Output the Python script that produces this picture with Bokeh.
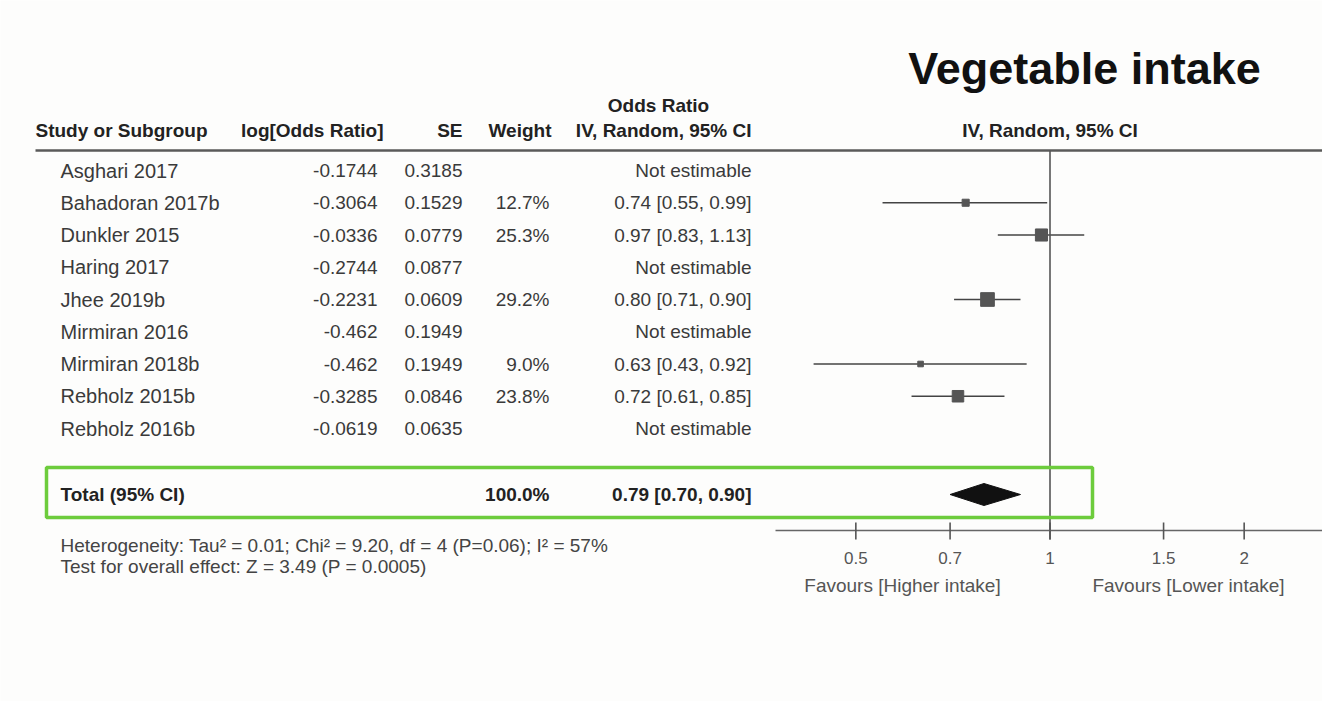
from bokeh.plotting import figure
from bokeh.models import Range1d, LogScale, ColumnDataSource
from bokeh.core.properties import value
from bokeh.embed import file_html
from bokeh.resources import INLINE

# ---------------- data ----------------
studies = ["Asghari 2017", "Bahadoran 2017b", "Dunkler 2015", "Haring 2017", "Jhee 2019b",
           "Mirmiran 2016", "Mirmiran 2018b", "Rebholz 2015b", "Rebholz 2016b"]
log_or = ["-0.1744", "-0.3064", "-0.0336", "-0.2744", "-0.2231", "-0.462", "-0.462", "-0.3285", "-0.0619"]
se = ["0.3185", "0.1529", "0.0779", "0.0877", "0.0609", "0.1949", "0.1949", "0.0846", "0.0635"]
weight = [None, 12.7, 25.3, None, 29.2, None, 9.0, 23.8, None]
or_est = [None, 0.74, 0.97, None, 0.80, None, 0.63, 0.72, None]
ci_low = [None, 0.55, 0.83, None, 0.71, None, 0.43, 0.61, None]
ci_high = [None, 0.99, 1.13, None, 0.90, None, 0.92, 0.85, None]

total_label = "Total (95% CI)"
total_weight = 100.0
total_est, total_low, total_high = 0.79, 0.70, 0.90

tick_values = [0.5, 0.7, 1, 1.5, 2]
tick_labels = ["0.5", "0.7", "1", "1.5", "2"]
favours_left = "Favours [Higher intake]"
favours_right = "Favours [Lower intake]"
heterogeneity = "Heterogeneity: Tau\u00b2 = 0.01; Chi\u00b2 = 9.20, df = 4 (P=0.06); I\u00b2 = 57%"
overall = "Test for overall effect: Z = 3.49 (P = 0.0005)"
title = "Vegetable intake"

# ---------------- layout ----------------
W, H = 1322, 701
FONT = value("Liberation Sans")
FS = "19px"
TXT = "#3a3a3a"
HDR = "#222222"
BG = "#fdfdfc"

ROW_Y0, ROW_DY = 170, 32.25
HEADER_Y = 130
TOTAL_Y = 494
AXIS_Y = 530
X_STUDY, X_LOGOR, X_SE, X_W, X_OR = 60, 377, 462, 549, 751
# log axis calibration: OR=1 at px 1049.5, 645 px per decade
PX_ONE, PX_DEC = 1049.5, 645.0
lo = 10 ** ((0 - PX_ONE) / PX_DEC)
hi = 10 ** ((W - PX_ONE) / PX_DEC)

p = figure(width=W, height=H, output_backend="svg", toolbar_location=None,
           x_range=Range1d(0, W), y_range=Range1d(H, 0),
           x_axis_location=None, y_axis_location=None, min_border=0,
           background_fill_color=BG, border_fill_color=BG, outline_line_color=None)
p.grid.visible = False
p.extra_x_ranges = {"or": Range1d(lo, hi)}
p.extra_x_scales = {"or": LogScale()}

row_y = [ROW_Y0 + i * ROW_DY for i in range(len(studies))]

def fmt_w(w):
    return "" if w is None else f"{w:.1f}%"

def fmt_or(e, l, h):
    return "Not estimable" if e is None else f"{e:.2f} [{l:.2f}, {h:.2f}]"

tbl = ColumnDataSource(dict(
    y=row_y, study=studies, logor=log_or, se=se,
    w=[fmt_w(w) for w in weight],
    ortxt=[fmt_or(e, l, h) for e, l, h in zip(or_est, ci_low, ci_high)],
))

common = dict(text_font=FONT, text_font_size=FS, text_baseline="middle", text_color=TXT)
p.text(x=X_STUDY, y="y", text="study", source=tbl, text_align="left",
       text_font=FONT, text_font_size="20px", text_baseline="middle", text_color=TXT)
p.text(x=X_LOGOR, y="y", text="logor", source=tbl, text_align="right", **common)
p.text(x=X_SE, y="y", text="se", source=tbl, text_align="right", **common)
p.text(x=X_W, y="y", text="w", source=tbl, text_align="right", **common)
p.text(x=X_OR, y="y", text="ortxt", source=tbl, text_align="right", **common)

# headers
hdr = dict(text_font=FONT, text_font_size=FS, text_baseline="middle", text_color=HDR,
           text_font_style="bold")
p.text(x=[35], y=[HEADER_Y], text=["Study or Subgroup"], text_align="left", **hdr)
p.text(x=[383, 462, 551, 751], y=[HEADER_Y] * 4,
       text=["log[Odds Ratio]", "SE", "Weight", "IV, Random, 95% CI"], text_align="right", **hdr)
p.text(x=[658], y=[105], text=["Odds Ratio"], text_align="center", **hdr)
p.text(x=[1], y=[HEADER_Y], text=["IV, Random, 95% CI"], text_align="center",
       x_range_name="or", **hdr)

# title
p.text(x=[1084], y=[68], text=[title], text_align="center", text_baseline="middle",
       text_font=FONT, text_font_size="45px", text_font_style="bold", text_color="#111111")

# header rule
p.segment(x0=[35], x1=[W], y0=[150], y1=[150], line_color="#5a5a5a", line_width=2.5)

# forest: CI lines and squares
fi = [i for i, e in enumerate(or_est) if e is not None]
fsrc = ColumnDataSource(dict(
    y=[row_y[i] for i in fi], est=[or_est[i] for i in fi],
    lo=[ci_low[i] for i in fi], hi=[ci_high[i] for i in fi],
    size=[2 + 0.4 * weight[i] for i in fi],
))
p.segment(x0="lo", x1="hi", y0="y", y1="y", source=fsrc, x_range_name="or",
          line_color="#444444", line_width=1.6)
p.scatter(x="est", y="y", size="size", marker="square", source=fsrc, x_range_name="or",
          fill_color="#555555", line_color="#555555")

# line of no effect
p.segment(x0=[1], x1=[1], y0=[150], y1=[AXIS_Y + 9], x_range_name="or",
          line_color="#555555", line_width=1.6)

# total row
p.text(x=[X_STUDY], y=[TOTAL_Y], text=[total_label], text_align="left", **hdr)
p.text(x=[X_W, X_OR], y=[TOTAL_Y] * 2,
       text=[f"{total_weight:.1f}%", fmt_or(total_est, total_low, total_high)],
       text_align="right", **hdr)
p.patch(x=[total_low, total_est, total_high, total_est],
        y=[TOTAL_Y, TOTAL_Y - 11, TOTAL_Y, TOTAL_Y + 11],
        x_range_name="or", fill_color="#111111", line_color="#111111")

# green highlight box
p.quad(left=[46], right=[1092], top=[467], bottom=[517], fill_color=None,
       line_color="#6dcc3c", line_width=3.5)

# x axis (log)
p.segment(x0=[775], x1=[W], y0=[AXIS_Y], y1=[AXIS_Y], line_color="#666666", line_width=1.6)
p.segment(x0=tick_values, x1=tick_values, y0=[AXIS_Y - 8] * 5, y1=[AXIS_Y + 9] * 5,
          x_range_name="or", line_color="#555555", line_width=1.6)
p.text(x=tick_values, y=[557] * 5, text=tick_labels, x_range_name="or", text_align="center",
       text_baseline="middle", text_font=FONT, text_font_size="17px", text_color="#555555")
p.text(x=[902, 1188], y=[585, 585], text=[favours_left, favours_right], text_align="center",
       text_baseline="middle", text_font=FONT, text_font_size=FS, text_color="#555555")

# footnotes
p.text(x=[X_STUDY, X_STUDY], y=[545, 566], text=[heterogeneity, overall], text_align="left",
       text_baseline="middle", text_font=FONT, text_font_size="19px", text_color="#444444")

open("out.html", "w").write(file_html(p, INLINE))
